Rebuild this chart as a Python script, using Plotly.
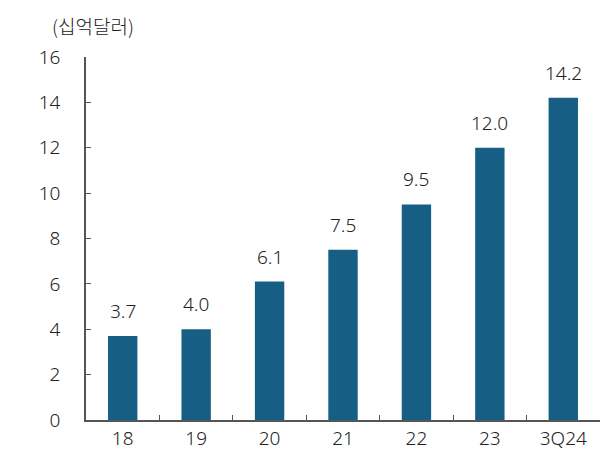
import plotly.graph_objects as go

categories = ["18", "19", "20", "21", "22", "23", "3Q24"]
values = [3.7, 4.0, 6.1, 7.5, 9.5, 12.0, 14.2]
labels = ["3.7", "4.0", "6.1", "7.5", "9.5", "12.0", "14.2"]
y_ticks = [0, 2, 4, 6, 8, 10, 12, 14, 16]

BAR = "#175E85"
TXT = "#222222"
FONT = "Noto Sans, Open Sans, sans-serif"
CJK = "Noto Sans CJK KR, sans-serif"
FS = 19
W = 300

fig = go.Figure(go.Bar(x=categories, y=values, marker_color=BAR, width=0.4,
                       marker_line_width=0, hoverinfo="skip"))

for i, (v, t) in enumerate(zip(values, labels)):
    fig.add_annotation(x=i, y=v, text=t, showarrow=False, yanchor="bottom",
                       yshift=10, font=dict(size=FS, color=TXT, family=FONT, weight=W))

fig.add_annotation(xref="paper", yref="paper", x=-0.07, y=1.045, xanchor="left",
                   yanchor="bottom", text="(십억달러)", showarrow=False,
                   font=dict(size=FS, color=TXT, family=CJK, weight=W))

fig.add_shape(type="line", xref="paper", yref="paper", x0=-0.2, x1=1.1,
              y0=1.138, y1=1.138, line=dict(color="#111111", width=1.5))

fig.update_layout(
    width=608, height=455,
    margin=dict(l=78, r=16, t=49, b=43, autoexpand=False),
    plot_bgcolor="white", paper_bgcolor="white",
    showlegend=False,
    font=dict(family=FONT, size=FS, color=TXT, weight=W),
    xaxis=dict(type="category", range=[-0.5, 6.5], showline=True, linecolor="#555555",
               linewidth=1.5, ticks="inside", tickson="boundaries", ticklen=5,
               tickcolor="#555555", showgrid=False,
               tickfont=dict(size=FS, color=TXT, family=FONT, weight=W),
               fixedrange=True, tickangle=0, automargin=False),
    yaxis=dict(range=[0, 16], tickvals=y_ticks, showline=True, linecolor="#555555",
               linewidth=1.5, ticks="inside", ticklen=5, tickcolor="#555555",
               showgrid=False, zeroline=False,
               tickfont=dict(size=FS, color=TXT, family=FONT, weight=W),
               ticklabelstandoff=20, fixedrange=True, automargin=False),
)

fig.write_html("out.html")
